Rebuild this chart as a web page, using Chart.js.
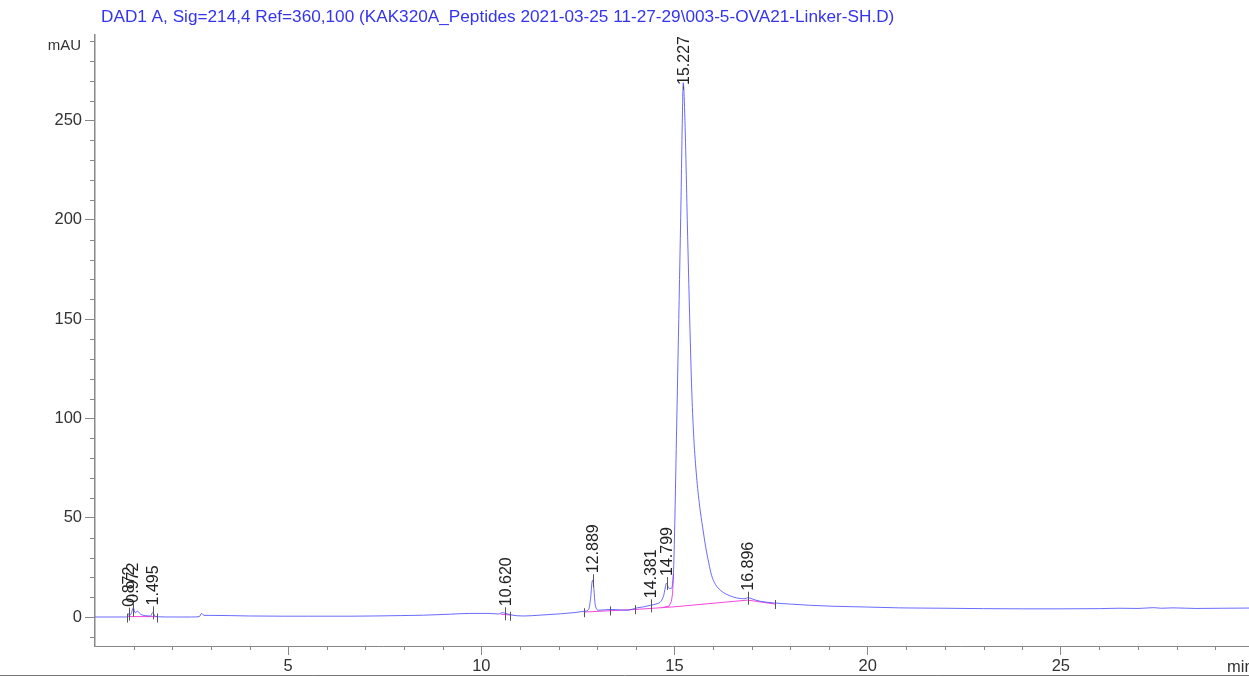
<!DOCTYPE html>
<html>
<head>
<meta charset="utf-8">
<script src="https://cdn.jsdelivr.net/npm/chart.js"></script>
<style>
  html, body { margin: 0; padding: 0; background: #fff; }
  #wrap { width: 1249px; height: 677px; position: relative; }
</style>
</head>
<body>
<div id="wrap"><canvas id="chromatogram"></canvas></div>
<script>
// Signal trace: [retention time (min), absorbance (mAU)]
const signal = [
  [0, 0.1], [0.80, 0.1], [0.84, 0.3], [0.87, 1.8], [0.92, 1.2], [0.99, 4.7],
  [1.04, 2.2], [1.10, 3.0], [1.18, 1.5], [1.30, 0.8], [1.44, 0.6], [1.495, 2.4],
  [1.55, 0.6], [1.65, 0.2], [2.0, 0.1], [2.5, 0.1], [2.70, 0.3], [2.76, 1.9],
  [2.82, 0.9], [3.0, 0.9], [3.5, 0.8], [4.0, 0.6], [4.9, 0.5], [5.5, 0.5],
  [6.6, 0.5], [7.2, 0.6], [7.9, 0.8], [8.5, 1.0], [9.2, 1.5], [9.7, 1.9],
  [10.2, 1.9], [10.45, 1.6], [10.54, 2.3], [10.62, 2.0], [10.75, 1.2], [11.09, 0.6],
  [11.5, 1.0], [12.05, 1.7], [12.40, 2.3], [12.67, 3.0], [12.78, 4.0], [12.83, 10],
  [12.87, 18.2], [12.889, 18.6], [12.91, 15], [12.95, 6], [13.04, 3.5], [13.34, 3.9],
  [13.77, 3.5], [14.03, 4.7], [14.20, 5.2], [14.381, 6.0], [14.55, 6.8], [14.65, 8.0],
  [14.72, 11], [14.78, 16.5], [14.799, 17.2], [14.83, 15.5], [14.87, 14.5], [14.92, 14.5],
  [14.95, 17], [14.98, 26], [15.01, 50], [15.05, 90], [15.09, 130], [15.13, 170],
  [15.17, 212], [15.20, 248], [15.227, 269], [15.25, 262], [15.29, 235], [15.33, 200],
  [15.37, 168], [15.41, 138], [15.45, 112], [15.50, 90], [15.57, 71], [15.65, 56],
  [15.73, 45], [15.81, 35], [15.89, 27], [15.96, 21], [16.06, 16.5], [16.19, 13.5],
  [16.35, 11.5], [16.50, 10.3], [16.70, 9.4], [16.82, 9.3], [16.896, 9.8], [16.98, 9.4],
  [17.10, 8.6], [17.22, 8.0], [17.56, 7.2], [18.0, 6.6], [18.5, 6.0], [19.1, 5.5],
  [20.0, 5.1], [20.8, 4.7], [22.0, 4.5], [23.0, 4.3], [24.0, 4.2], [25.0, 4.2],
  [26.0, 4.3], [26.5, 4.5], [27.0, 4.4], [27.4, 4.8], [27.6, 4.5], [27.9, 4.7],
  [28.5, 4.4], [29.2, 4.5], [29.87, 4.6]
];

// Integration baselines
const baselineSegments = [
  [[0.84, 0.3], [1.61, 0.3]],
  [[10.50, 1.5], [10.75, 1.1]],
  [[12.67, 2.6], [13.99, 3.9], [14.98, 5.2], [16.896, 8.6], [17.60, 6.6]],
  [[14.65, 4.7], [14.86, 5.6], [14.92, 8], [14.95, 12], [14.975, 22]]
];

// Labelled peaks
const peakTimes = [0.872, 0.972, 1.495, 10.620, 12.889, 14.381, 14.799, 15.227, 16.896];
const peakLabels = ["0.872", "0.972", "1.495", "10.620", "12.889", "14.381", "14.799", "15.227", "16.896"];

// Peak start / end markers
const eventTimes = [0.84, 1.61, 10.75, 12.67, 13.34, 13.99, 17.60];

const xMajorTicks = [5, 10, 15, 20, 25];
const yMajorTicks = [0, 50, 100, 150, 200, 250];

const titleText = "DAD1 A, Sig=214,4 Ref=360,100 (KAK320A_Peptides 2021-03-25 11-27-29\\003-5-OVA21-Linker-SH.D)";

const FONT = "'Liberation Sans', Arial, sans-serif";

function valueAt(t) {
  for (let i = 1; i < signal.length; i++) {
    if (signal[i][0] >= t) {
      const [t0, v0] = signal[i - 1];
      const [t1, v1] = signal[i];
      return v0 + (v1 - v0) * (t - t0) / (t1 - t0);
    }
  }
  return signal[signal.length - 1][1];
}

const overlay = {
  id: "overlay",
  afterDraw(chart) {
    const ctx = chart.ctx;
    const xs = chart.scales.x;
    const ys = chart.scales.y;
    const area = chart.chartArea;
    ctx.save();

    // minor ticks
    ctx.strokeStyle = "#888";
    ctx.lineWidth = 1;
    ctx.beginPath();
    for (let m = 1; m < 30; m++) {
      if (m % 5 === 0) continue;
      const px = Math.round(xs.getPixelForValue(m)) + 0.5;
      ctx.moveTo(px, area.bottom);
      ctx.lineTo(px, area.bottom + 4);
    }
    for (let v = -10; v <= 290; v += 10) {
      if (v % 50 === 0) continue;
      const py = Math.round(ys.getPixelForValue(v)) + 0.5;
      ctx.moveTo(area.left, py);
      ctx.lineTo(area.left - 5, py);
    }
    ctx.stroke();

    // peak start/end markers
    ctx.strokeStyle = "#555";
    ctx.beginPath();
    eventTimes.forEach((t) => {
      const px = Math.round(xs.getPixelForValue(t)) + 0.5;
      const py = ys.getPixelForValue(valueAt(t));
      ctx.moveTo(px, py - 3);
      ctx.lineTo(px, py + 6);
    });
    ctx.stroke();

    // peak labels
    ctx.font = "16px " + FONT;
    ctx.fillStyle = "#222";
    ctx.textAlign = "left";
    ctx.textBaseline = "middle";
    peakTimes.forEach((t, i) => {
      const px = xs.getPixelForValue(t);
      const py = ys.getPixelForValue(valueAt(t));
      const w = ctx.measureText(peakLabels[i]).width;
      const bottom = Math.max(py - 6, 37 + w);
      ctx.beginPath();
      ctx.moveTo(Math.round(px) + 0.5, bottom);
      ctx.lineTo(Math.round(px) + 0.5, py + 7);
      ctx.stroke();
      ctx.save();
      ctx.translate(px + 1, bottom);
      ctx.rotate(-Math.PI / 2);
      ctx.fillText(peakLabels[i], 1, 0);
      ctx.restore();
    });

    // title and axis units
    ctx.textBaseline = "alphabetic";
    ctx.font = "17.2px " + FONT;
    ctx.fillStyle = "#3434f0";
    ctx.fillText(titleText, 101, 21.5);
    ctx.fillStyle = "#333";
    ctx.font = "15px " + FONT;
    ctx.textAlign = "right";
    ctx.fillText("mAU", 81, 50);
    ctx.font = "16.5px " + FONT;
    ctx.textAlign = "left";
    ctx.fillText("min", 1227, 672);

    // page frame line
    ctx.strokeStyle = "#777";
    ctx.beginPath();
    ctx.moveTo(0, 675.5);
    ctx.lineTo(chart.width, 675.5);
    ctx.stroke();
    ctx.restore();
  }
};

const datasets = [
  {
    label: "DAD1 A",
    data: signal.map(([x, y]) => ({ x, y })),
    borderColor: "rgba(80, 80, 255, 0.85)",
    borderWidth: 1,
    pointRadius: 0,
    cubicInterpolationMode: "monotone",
    order: 1
  }
].concat(baselineSegments.map((seg) => ({
  label: "baseline",
  data: seg.map(([x, y]) => ({ x, y })),
  borderColor: "rgb(250, 70, 220)",
  borderWidth: 1,
  pointRadius: 0,
  tension: 0,
  order: 2
})));

new Chart(document.getElementById("chromatogram"), {
  type: "line",
  data: { datasets },
  options: {
    responsive: true,
    maintainAspectRatio: false,
    animation: false,
    layout: { padding: { top: 35, right: 0, left: 0, bottom: 0 } },
    plugins: {
      legend: { display: false },
      tooltip: { enabled: false },
      title: { display: false }
    },
    scales: {
      x: {
        type: "linear",
        min: 0,
        max: 29.87,
        afterBuildTicks: (scale) => { scale.ticks = xMajorTicks.map((v) => ({ value: v })); },
        afterFit: (scale) => { scale.height = 31; },
        grid: { drawOnChartArea: false, drawTicks: true, tickLength: 9, color: "#888" },
        border: { display: true, color: "#888", width: 1 },
        ticks: {
          autoSkip: false,
          maxRotation: 0,
          padding: 2,
          color: "#333",
          font: { family: FONT, size: 16.5 }
        }
      },
      y: {
        type: "linear",
        min: -14.5,
        max: 293,
        afterBuildTicks: (scale) => { scale.ticks = yMajorTicks.map((v) => ({ value: v })); },
        afterFit: (scale) => { scale.width = 95; },
        grid: { drawOnChartArea: false, drawTicks: true, tickLength: 10, color: "#888" },
        border: { display: true, color: "#888", width: 1.5 },
        ticks: {
          autoSkip: false,
          padding: 3,
          color: "#333",
          font: { family: FONT, size: 16.5 }
        }
      }
    }
  },
  plugins: [overlay]
});
</script>
</body>
</html>
